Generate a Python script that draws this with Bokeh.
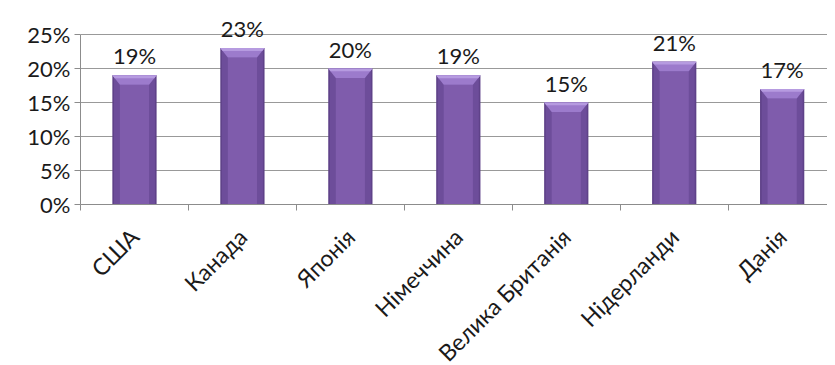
import math
from bokeh.plotting import figure
from bokeh.models import ColumnDataSource, FixedTicker, Range1d, NumeralTickFormatter
from bokeh.core.properties import value
from bokeh.embed import file_html
from bokeh.resources import INLINE

countries = ["США", "Канада", "Японія", "Німеччина", "Велика Британія", "Нідерланди", "Данія"]
shares = [0.19, 0.23, 0.20, 0.19, 0.15, 0.21, 0.17]
y_ticks = [0.0, 0.05, 0.10, 0.15, 0.20, 0.25]

FONT = "Lato"
n = len(countries)
xs = [i + 0.5 for i in range(n)]
labels = [f"{round(v * 100)}%" for v in shares]

W = 0.41      # bar width (category units)
D = 0.07      # bevel inset (category units)
H = 0.014     # bevel height (value units)

src = ColumnDataSource(dict(
    x=xs, top=shares, lab=labels,
    inner_top=[v - H for v in shares],
))
bevel_xs = [[x - W / 2, x + W / 2, x + W / 2 - D, x - W / 2 + D] for x in xs]
bevel_ys = [[v, v, v - H, v - H] for v in shares]
hi_xs = [[x - W / 2, x + W / 2, x + W / 2 - D * 0.3, x - W / 2 + D * 0.3] for x in xs]
hi_ys = [[v, v, v - H * 0.3, v - H * 0.3] for v in shares]

p = figure(width=827, height=357, output_backend="svg", toolbar_location=None,
           x_range=Range1d(0, 6.92), y_range=Range1d(0, 0.30),
           frame_height=204,
           min_border_left=80, min_border_right=0, min_border_top=0, min_border_bottom=10)
p.outline_line_color = None
p.background_fill_color = "white"

# bars
p.vbar(x="x", top="top", bottom=0, width=W, source=src,
       fill_color="#5F4289", line_color=None)
p.vbar(x="x", top="top", bottom=0, width=W - 0.03, source=src,
       fill_color="#6D4D9A", line_color=None)
p.vbar(x="x", top="inner_top", bottom=0, width=W - 2 * D, source=src,
       fill_color="#7F5CAC", line_color=None)
p.patches(xs=bevel_xs, ys=bevel_ys, fill_color="#9C7BCC", line_color=None)
p.patches(xs=hi_xs, ys=hi_ys, fill_color="#B69BE0", line_color=None)

p.text(x="x", y="top", text="lab", source=src, text_align="center",
       text_baseline="bottom", y_offset=-6, text_font=value(FONT),
       text_font_size="22px", text_color="#1a1a1a")

# y axis
ya = p.yaxis[0]
ya.ticker = FixedTicker(ticks=y_ticks)
ya.formatter = NumeralTickFormatter(format="0%")
ya.bounds = (0, 0.25)
ya.axis_line_color = "#8c8c8c"
ya.major_tick_line_color = "#8c8c8c"
ya.major_tick_out = 6
ya.major_tick_in = 0
ya.minor_tick_line_color = None
ya.major_label_text_font = FONT
ya.major_label_text_font_size = "22px"
ya.major_label_text_color = "#1a1a1a"
ya.major_label_standoff = 4

# x axis
xa = p.xaxis[0]
xa.ticker = FixedTicker(ticks=xs, minor_ticks=list(range(n + 1)))
xa.major_label_overrides = {x: c for x, c in zip(xs, countries)}
xa.major_label_orientation = math.pi / 4
xa.axis_line_color = "#8c8c8c"
xa.major_tick_line_color = None
xa.minor_tick_line_color = "#8c8c8c"
xa.minor_tick_out = 6
xa.minor_tick_in = 0
xa.major_label_text_font = FONT
xa.major_label_text_font_size = "23px"
xa.major_label_text_color = "#1a1a1a"
xa.major_label_standoff = 22

p.xgrid.grid_line_color = None
p.ygrid.grid_line_color = "#999999"
p.ygrid.ticker = FixedTicker(ticks=y_ticks)

open("out.html", "w").write(file_html(p, INLINE))
